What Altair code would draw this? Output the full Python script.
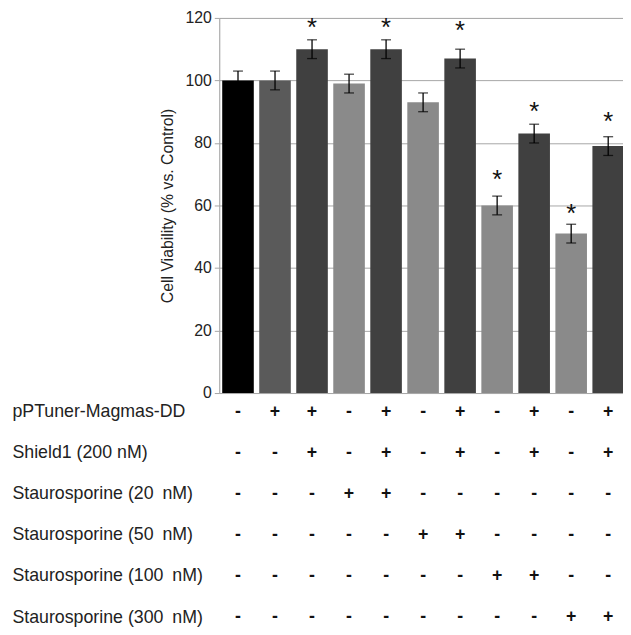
import altair as alt
import pandas as pd

# ---- data ----
groups = [f"G{i}" for i in range(1, 12)]
viability = [100, 100, 110, 99, 110, 93, 107, 60, 83, 51, 79]
error = [3, 3, 3, 3, 3, 3, 3, 3, 3, 3, 3]
star_pos = [None, None, 117.4, None, 117.3, None, 116.4, 68.8, 90.5, 57.8, 87.4]
bar_colors = ["#000000", "#5a5a5a", "#404040", "#8a8a8a", "#404040", "#8a8a8a",
              "#404040", "#8a8a8a", "#404040", "#8a8a8a", "#404040"]

row_labels = ["pPTuner-Magmas-DD", "Shield1 (200 nM)", "Staurosporine (20\u2002nM)",
              "Staurosporine (50\u2002nM)", "Staurosporine (100\u2002nM)",
              "Staurosporine (300\u2002nM)"]
row_symbols = [
    ["-", "+", "+", "-", "+", "-", "+", "-", "+", "-", "+"],
    ["-", "-", "+", "-", "+", "-", "+", "-", "+", "-", "+"],
    ["-", "-", "-", "+", "+", "-", "-", "-", "-", "-", "-"],
    ["-", "-", "-", "-", "-", "+", "+", "-", "-", "-", "-"],
    ["-", "-", "-", "-", "-", "-", "-", "+", "+", "-", "-"],
    ["-", "-", "-", "-", "-", "-", "-", "-", "-", "+", "+"],
]
y_ticks = [0, 20, 40, 60, 80, 100, 120]
y_domain = [0, 120]

# ---- tables ----
df = pd.DataFrame({
    "group": groups,
    "v": viability,
    "lo": [v - e for v, e in zip(viability, error)],
    "hi": [v + e for v, e in zip(viability, error)],
    "star": star_pos,
})
stars = df.dropna(subset=["star"])
table = pd.DataFrame([
    {"group": g, "row": r, "sym": s}
    for r, syms in zip(row_labels, row_symbols)
    for g, s in zip(groups, syms)
])

FONT = "Liberation Sans"
YTITLE = "Cell Viability (% vs. Control)"


def yscale():
    return alt.Scale(domain=y_domain, nice=False, zero=True)


xenc = alt.X("group:N", sort=groups, axis=None,
             scale=alt.Scale(range=[0, 413], paddingInner=0.147, paddingOuter=0.08))

bars = alt.Chart(df).mark_bar().encode(
    x=xenc,
    y=alt.Y("v:Q", title=YTITLE, scale=yscale(),
            axis=alt.Axis(values=y_ticks, grid=True, gridColor="#a6a6a6", gridWidth=1,
                          domainColor="#a6a6a6", tickColor="#a6a6a6", tickSize=5,
                          labelFontSize=16, labelColor="#222222", labelPadding=3,
                          titleFontSize=16, titleFontWeight="normal", titleColor="#222222",
                          titlePadding=10, orient="left")),
    color=alt.Color("group:N", sort=groups,
                    scale=alt.Scale(domain=groups, range=bar_colors), legend=None),
)

rules = alt.Chart(df).mark_rule(color="black", strokeWidth=1.3).encode(
    x=xenc, y=alt.Y("lo:Q", scale=yscale(), axis=None), y2="hi:Q")
cap_hi = alt.Chart(df).mark_tick(color="black", thickness=1.3, size=10).encode(
    x=xenc, y=alt.Y("hi:Q", scale=yscale(), axis=None))
cap_lo = alt.Chart(df).mark_tick(color="black", thickness=1.3, size=10).encode(
    x=xenc, y=alt.Y("lo:Q", scale=yscale(), axis=None))
star_txt = alt.Chart(stars).mark_text(text="*", fontSize=26, font=FONT, color="#111111",
                                      baseline="middle", dy=2).encode(
    x=xenc, y=alt.Y("star:Q", scale=yscale(), axis=None))

table_txt = alt.Chart(table).mark_text(fontSize=18, fontWeight="bold", font=FONT,
                                       color="#111111", baseline="middle").encode(
    x=xenc,
    y=alt.Y("row:N", sort=row_labels,
            scale=alt.Scale(type="point", range=[399, 607], padding=0),
            axis=alt.Axis(orient="left", domain=False, ticks=False, grid=False,
                          labelAlign="left", labelBaseline="middle", labelPadding=210,
                          labelFontSize=18, labelColor="#222222", labelLimit=0, title=None)),
    text="sym:N",
)

chart = alt.layer(bars, rules, cap_hi, cap_lo, star_txt, table_txt).resolve_scale(
    y="independent").resolve_axis(y="independent").properties(
    width=409, height=380,
    autosize=alt.AutoSizeParams(type="none"),
    padding={"left": 214, "top": 6, "right": 0, "bottom": 238},
).configure_view(stroke=None).configure(font=FONT)

chart.save("out.html", embed_options={"renderer": "svg", "actions": False})
